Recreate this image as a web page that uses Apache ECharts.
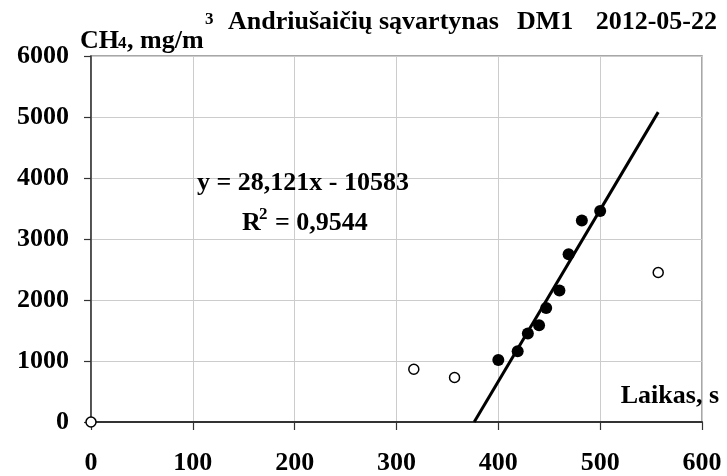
<!DOCTYPE html>
<html>
<head>
<meta charset="utf-8">
<script src="https://cdn.jsdelivr.net/npm/echarts@6/dist/echarts.min.js"></script>
<style>html,body{margin:0;padding:0;background:#fff;}#c{width:727px;height:476px;}</style>
</head>
<body>
<div id="c"></div>
<script>
// Data
const xTicks = [0, 100, 200, 300, 400, 500, 600];
const yTicks = [0, 1000, 2000, 3000, 4000, 5000, 6000];
const filledPoints = [[400,1015],[419,1158],[429,1450],[440,1585],[447,1870],[460,2157],[469,2750],[482,3305],[500,3460]];
const openPoints = [[0,0],[317,864],[357,729],[557,2451]];
const trendLine = [[376.3,0],[557,5080]];
const titleParts = ['Andriušaičių sąvartynas', 'DM1', '2012-05-22'];
const equationText = 'y = 28,121x - 10583';
const r2Text = '= 0,9544';

const FF = '"Liberation Serif","Times New Roman",serif';
const font = (s) => 'bold ' + s + 'px ' + FF;
function txt(x, y, text, size, align) {
  return { type: 'text', x: x, y: y, z: 100,
    style: { text: text, font: font(size), fill: '#000', textAlign: align || 'left', textVerticalAlign: 'middle' } };
}

const chart = echarts.init(document.getElementById('c'), null, {renderer: 'canvas'});
chart.setOption({
  animation: false,
  backgroundColor: '#fff',
  grid: { left: 91, right: 25, top: 56, bottom: 52, show: true, borderColor: '#8a8a8a', borderWidth: 1.5, backgroundColor: 'transparent' },
  xAxis: {
    type: 'value', min: xTicks[0], max: xTicks[xTicks.length-1], interval: 100,
    axisLine: { show: true, onZero: false, lineStyle: { color: '#333', width: 2 } },
    axisTick: { show: true, inside: false, length: 8, lineStyle: { color: '#333', width: 1.2 } },
    axisLabel: { margin: 28, fontSize: 26, fontWeight: 'bold', fontFamily: FF, color: '#000', formatter: (v) => String(v) },
    splitLine: { show: true, lineStyle: { color: '#cccccc', width: 1 } }
  },
  yAxis: {
    type: 'value', min: yTicks[0], max: yTicks[yTicks.length-1], interval: 1000,
    axisLine: { show: true, onZero: false, lineStyle: { color: '#333', width: 1.5 } },
    axisTick: { show: true, inside: false, length: 7, lineStyle: { color: '#333', width: 1.2 } },
    axisLabel: { margin: 22, fontSize: 26, fontWeight: 'bold', fontFamily: FF, color: '#000', formatter: (v) => String(v) },
    splitLine: { show: true, lineStyle: { color: '#cccccc', width: 1 } }
  },
  series: [
    { type: 'line', data: trendLine, symbol: 'none', lineStyle: { color: '#000', width: 3 }, z: 3, silent: true },
    { type: 'scatter', data: filledPoints, symbol: 'circle', symbolSize: 12, itemStyle: { color: '#000', opacity: 1 }, z: 4, clip: false },
    { type: 'scatter', data: openPoints, symbol: 'circle', symbolSize: 10, itemStyle: { color: '#fff', borderColor: '#000', borderWidth: 1.5, opacity: 1 }, z: 4, clip: false }
  ],
  graphic: [
    txt(228, 22, titleParts[0], 26),
    txt(517, 22, titleParts[1], 26),
    txt(717, 22, titleParts[2], 26, 'right'),
    txt(80, 41, 'CH', 26),
    txt(118, 44, '4', 17),
    txt(127, 41, ', mg/m', 26),
    txt(205, 20, '3', 17),
    txt(197, 183, equationText, 26),
    txt(242, 223, 'R', 26),
    txt(259, 215, '2', 17),
    txt(275, 223, r2Text, 26),
    txt(719, 396, 'Laikas, s', 26, 'right')
  ]
});
</script>
</body>
</html>
